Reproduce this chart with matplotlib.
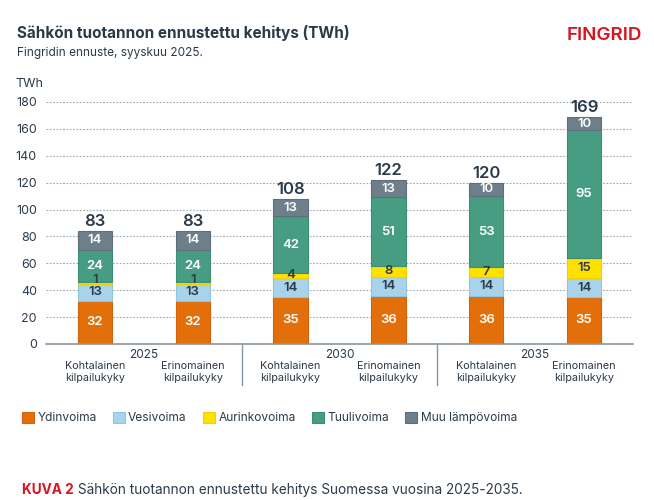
import matplotlib
matplotlib.use("Agg")
import matplotlib.pyplot as plt
from matplotlib.patches import Patch

plt.rcParams['font.family'] = ['Inter', 'DejaVu Sans']

# data
years = ["2025", "2030", "2035"]
scenarios = ["Kohtalainen\nkilpailukyky", "Erinomainen\nkilpailukyky"] * 3
series = ["Ydinvoima", "Vesivoima", "Aurinkovoima", "Tuulivoima", "Muu lämpövoima"]
ydin = [32, 32, 35, 36, 36, 35]
vesi = [13, 13, 14, 14, 14, 14]
aurinko = [1, 1, 4, 8, 7, 15]
tuuli = [24, 24, 42, 51, 53, 95]
muu = [14, 14, 13, 13, 10, 10]
totals = [83, 83, 108, 122, 120, 169]
yticks = [0, 20, 40, 60, 80, 100, 120, 140, 160, 180]

colors = ["#E36F0A", "#A9D3EA", "#FFE100", "#479D82", "#6E7F8C"]
edges = ["#D4620A", "#8FC4E2", "#F2D000", "#3A8E73", "#5E6E7A"]
txtcol = ["white", "#2B3A4A", "#2B3A4A", "white", "white"]
dark = "#2B3A4A"
red = "#D8141E"

fig = plt.figure(figsize=(6.54, 5.0), dpi=100)
ax = fig.add_axes([46/654, 1-344/500, (633-46)/654, 242/500])

x = list(range(len(totals)))
bottom = [0]*len(x)
for vals, c, ec, tc, name in zip([ydin, vesi, aurinko, tuuli, muu], colors, edges, txtcol, series):
    ax.bar(x, vals, bottom=bottom, width=0.35, color=c, edgecolor=ec, linewidth=0.8, label=name, zorder=3)
    for xi, v, b in zip(x, vals, bottom):
        dy = 3 if v < 3 else 0  # tiny segments: lift label a bit like the original
        ax.annotate(str(v), (xi, b + v/2), xytext=(0, dy), textcoords='offset pixels',
                    ha='center', va='center', color=tc, fontsize=9.5, fontweight=600, zorder=4)
    bottom = [b + v for b, v in zip(bottom, vals)]

for xi, b, t in zip(x, bottom, totals):
    ax.annotate(str(t), (xi, b), xytext=(0, 2), textcoords='offset pixels',
                ha='center', va='bottom', fontsize=12, fontweight=600,
                color=dark, annotation_clip=False)

ax.set_xlim(-0.5, 5.5)
ax.set_ylim(0, 180)
ax.set_yticks(yticks)
ax.yaxis.grid(True, linestyle=(0, (1.5, 1.5)), color="#A0A8B0", linewidth=0.8, zorder=0)
ax.set_xticks([])
for s in ['top', 'right', 'left']:
    ax.spines[s].set_visible(False)
ax.spines['bottom'].set_color("#8A96A0")
ax.spines['bottom'].set_linewidth(1.2)
ax.spines['bottom'].set_zorder(5)
ax.tick_params(axis='y', length=0, pad=6.5, labelsize=9, labelcolor=dark)

# category labels
for i, lab in enumerate(scenarios):
    ax.annotate(lab, (i, 0), xycoords=('data', 'axes fraction'), xytext=(0, -17),
                textcoords='offset pixels', ha='center', va='top', fontsize=7.8,
                color=dark, linespacing=1.3, annotation_clip=False)
for j, yr in enumerate(years):
    ax.annotate(yr, (2*j + 0.5, 0), xycoords=('data', 'axes fraction'), xytext=(0, -5),
                textcoords='offset pixels', ha='center', va='top', fontsize=8.5,
                color=dark, annotation_clip=False)
for sx in [1.5, 3.5]:
    ax.plot([sx, sx], [0, -41/242], transform=ax.get_xaxis_transform(), color="#8A96A0",
            linewidth=1, clip_on=False)

fig.text(15/654, 1-84/500, "TWh", fontsize=9, color=dark, va='center')
fig.text(17/654, 1-33/500, "Sähkön tuotannon ennustettu kehitys (TWh)", fontsize=11,
         fontweight='bold', color=dark, va='center')
fig.text(17/654, 1-53/500, "Fingridin ennuste, syyskuu 2025.", fontsize=8.5, color=dark, va='center')
fig.text(642/654, 1-36/500, "FINGRID", fontsize=13.5, fontweight=600, color=red,
         ha='right', va='center')

handles = [Patch(facecolor=c, edgecolor=ec, linewidth=0.8) for c, ec in zip(colors, edges)]
fig.legend(handles, series, loc='center left', bbox_to_anchor=(11/654, 1-418/500), ncol=5,
           frameon=False, handlelength=1.0, handleheight=1.1, handletextpad=0.3,
           columnspacing=1.35, fontsize=8.6, labelcolor=dark)

t1 = fig.text(22/654, 1-490/500, "KUVA 2", fontsize=9.8, fontweight='bold', color=red, va='center')
ax.annotate(" Sähkön tuotannon ennustettu kehitys Suomessa vuosina 2025-2035.",
            xy=(1, 0.5), xycoords=t1, va='center', ha='left', fontsize=9.8, color=dark,
            annotation_clip=False)

fig.savefig("out.png", dpi=100)
